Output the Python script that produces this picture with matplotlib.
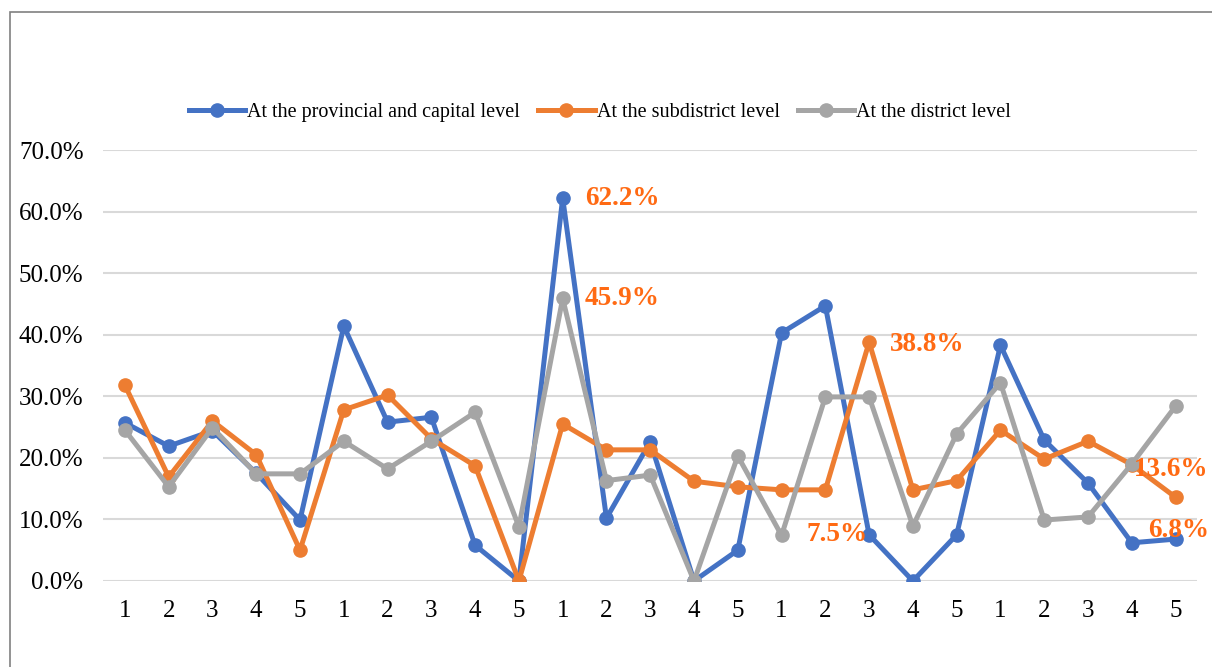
import matplotlib.pyplot as plt
from matplotlib.patches import Rectangle

# categories: 5 groups of items 1..5
tick_labels = ["1", "2", "3", "4", "5"] * 5

provincial = [25.7, 21.9, 24.4, 17.5, 9.9,
              41.4, 25.8, 26.6, 5.8, 0.0,
              62.2, 10.2, 22.6, 0.0, 5.0,
              40.3, 44.7, 7.5, 0.0, 7.5,
              38.3, 22.9, 15.9, 6.2, 6.8]
subdistrict = [31.8, 16.9, 26.0, 20.5, 5.0,
               27.8, 30.2, 23.1, 18.7, 0.0,
               25.5, 21.3, 21.3, 16.2, 15.3,
               14.8, 14.8, 38.8, 14.8, 16.3,
               24.5, 19.8, 22.7, 18.9, 13.6]
district = [24.5, 15.3, 24.9, 17.4, 17.4,
            22.7, 18.2, 22.7, 27.4, 8.8,
            45.9, 16.3, 17.2, 0.0, 20.3,
            7.4, 29.9, 29.9, 8.9, 23.9,
            32.2, 9.9, 10.4, 19.0, 28.4]

series_names = ["At the provincial and capital level",
                "At the subdistrict level",
                "At the district level"]
colors = ["#4472C4", "#ED7D31", "#A5A5A5"]

# (series index, point index, label text, offset in points, ha)
callouts = [
    (0, 10, "62.2%", (16, 0), "left"),
    (2, 10, "45.9%", (16, 0), "left"),
    (1, 17, "38.8%", (15, -2), "left"),
    (0, 17, "7.5%", (-1, 0), "right"),
    (1, 24, "13.6%", (-3, 20), "center"),
    (0, 24, "6.8%", (2, 6), "center"),
]

plt.rcParams["font.family"] = ["Liberation Serif", "DejaVu Serif"]

fig = plt.figure(figsize=(12.12, 6.67), dpi=100)
ax = fig.add_axes([0.085, 0.129, 0.903, 0.646])

x = list(range(1, len(tick_labels) + 1))
data = [provincial, subdistrict, district]
for vals, name, c in zip(data, series_names, colors):
    ax.plot(x, [v / 100 for v in vals], color=c, lw=3.6, marker="o",
            markersize=9.5, label=name, solid_joinstyle="round")

for si, pi, text, off, ha in callouts:
    ax.annotate(text, xy=(x[pi], data[si][pi] / 100), xytext=off,
                textcoords="offset points", ha=ha, va="center",
                color="#FF6A13", fontsize=19.5, fontweight="bold")

ax.set_xlim(0.5, len(x) + 0.5)
ax.set_ylim(0, 0.7)
ax.set_yticks([i / 10 for i in range(8)])
ax.set_yticklabels([f"{i * 10:.1f}%" for i in range(8)], fontsize=18)
ax.set_xticks(x)
ax.set_xticklabels(tick_labels, fontsize=18)
ax.tick_params(length=0)
ax.tick_params(axis="x", pad=14)
ax.tick_params(axis="y", pad=14)
ax.grid(axis="y", color="#D9D9D9", lw=1.5)
ax.set_axisbelow(True)
for s in ax.spines.values():
    s.set_visible(False)

leg = ax.legend(loc="center", bbox_to_anchor=(0.454, 1.088), ncol=3,
                frameon=False, fontsize=14.5, handlelength=2.8,
                columnspacing=0.9, handletextpad=0.1)

# outer chart frame
fig.patches.append(Rectangle((10 / 1212, -0.05), 1.1, 0.05 + (667 - 12) / 667,
                             transform=fig.transFigure, fill=False,
                             edgecolor="#808080", lw=1.2))

fig.savefig("out.png", dpi=100)
